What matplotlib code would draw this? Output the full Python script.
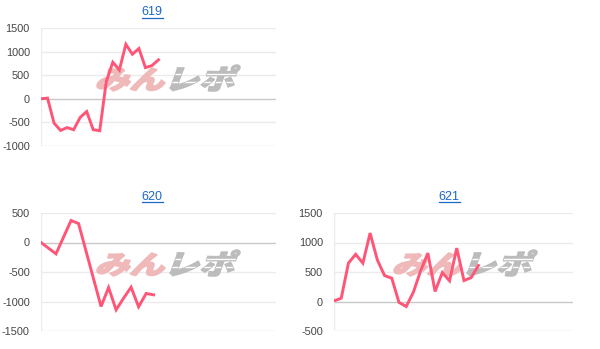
import matplotlib
matplotlib.use("Agg")
import matplotlib.pyplot as plt
import numpy as np
from matplotlib.textpath import TextPath
from matplotlib.font_manager import FontProperties
from matplotlib.patches import PathPatch
from matplotlib.transforms import Affine2D, IdentityTransform
from matplotlib.lines import Line2D

# Data (cumulative balance per game)
X_619 = list(range(19))
Y_619 = [0, 15, -515, -670, -610, -655, -395, -270, -655, -675,
         365, 775, 610, 1155, 945, 1065, 660, 705, 825]

X_620 = [0, 2, 4, 5, 8, 9, 10, 11, 12, 13, 14, 15]
Y_620 = [0, -192, 373, 322, -1085, -763, -1141, -944, -757, -1090, -864, -887]

X_621 = list(range(21))
Y_621 = [10, 55, 650, 800, 650, 1160, 705, 440, 395, -15, -85,
         160, 520, 820, 170, 490, 350, 905, 355, 405, 610]

TITLES = ["619", "620", "621"]

W_PX, H_PX = 600, 349
LINE_COLOR = "#ff5677"
LINK_BLUE = "#1a68c8"
GRID = "#ebebeb"
BASE = "#c8c8c8"
LABEL = "#444444"

plt.rcParams["font.family"] = ["Liberation Sans", "DejaVu Sans"]

fig = plt.figure(figsize=(W_PX / 100, H_PX / 100), dpi=100)


def px_rect(x0, x1, ytop, ybot):
    return [x0 / W_PX, 1 - ybot / H_PX, (x1 - x0) / W_PX, (ybot - ytop) / H_PX]


def watermark(ax, ox, oy):
    """Skewed 'みんレポ' logo, box given in top-left pixel coords."""
    fp = FontProperties(family="Noto Sans CJK JP", weight="black")
    parts = [("みん", "#efb9b9", (97, 165, 68, 91)),
             ("レポ", "#bcbcbc", (170, 240, 65, 91))]
    for txt, col, (x0, x1, y0, y1) in parts:
        tp = TextPath((0, 0), txt, size=1, prop=fp)
        tp = tp.transformed(Affine2D().skew_deg(16, 0))
        ext = tp.get_extents()
        sx = (x1 - x0) / ext.width
        sy = (y1 - y0) / ext.height
        tr = (Affine2D().translate(-ext.x0, -ext.y0).scale(sx, sy)
              .translate(ox + x0, H_PX - (oy + y1)))
        path = tr.transform_path(tp)
        patch = PathPatch(path, facecolor=col, edgecolor=col, linewidth=1.1,
                          transform=IdentityTransform(), zorder=1.5, clip_on=False)
        ax.add_patch(patch)
        if txt == "レポ":
            # speed-line gaps across the grey half
            for yy in (oy + 74, oy + 82):
                gap = Line2D([ox + x0 - 2, ox + x1 + 2], [H_PX - yy] * 2,
                             color="white", linewidth=1.0,
                             transform=IdentityTransform(), zorder=1.6)
                gap.set_clip_path(patch)
                ax.add_artist(gap)


def draw_panel(rect, xs, ys, xmax, ylim, title, title_xy, wm_off):
    ax = fig.add_axes(rect)
    ax.plot(xs, ys, color=LINE_COLOR, linewidth=2.1, zorder=3,
            solid_joinstyle="miter")
    ax.set_xlim(0, xmax)
    ax.set_ylim(*ylim)
    ticks = np.arange(ylim[0], ylim[1] + 1, 500)
    ax.set_yticks(ticks)
    ax.set_yticklabels([str(t) for t in ticks], fontsize=7.8, color=LABEL)
    ax.set_xticks([])
    ax.tick_params(axis="y", length=0, pad=8)
    for sp in ax.spines.values():
        sp.set_visible(False)
    for t in ticks:
        if t == 0:
            c = BASE
        elif t == ticks[0]:
            c = "#dedede"
        else:
            c = GRID
        ax.axhline(t, color=c, linewidth=1.0, zorder=1)
    ax.axvline(0, color=GRID, linewidth=1.0, zorder=1)
    watermark(ax, *wm_off)

    # underlined link-style title
    tx, ty = title_xy
    fig.text(tx / W_PX, 1 - ty / H_PX, title, ha="center", va="center",
             fontsize=9, color=LINK_BLUE)
    half = 10.5
    fig.add_artist(Line2D([(tx - half) / W_PX, (tx + half) / W_PX],
                          [1 - (ty + 5.5) / H_PX] * 2, color=LINK_BLUE, linewidth=0.9))
    return ax


draw_panel(px_rect(41, 276, 28, 146), X_619, Y_619, 36.0, (-1000, 1500),
           TITLES[0], (152, 12), (0, 0))
draw_panel(px_rect(41, 276, 213, 331), X_620, Y_620, 31.3, (-1500, 500),
           TITLES[1], (152, 197), (0, 185))
draw_panel(px_rect(334, 573, 213, 331), X_621, Y_621, 33.1, (-500, 1500),
           TITLES[2], (449, 197), (297, 185))

fig.savefig("out.png", dpi=100, facecolor="white")
